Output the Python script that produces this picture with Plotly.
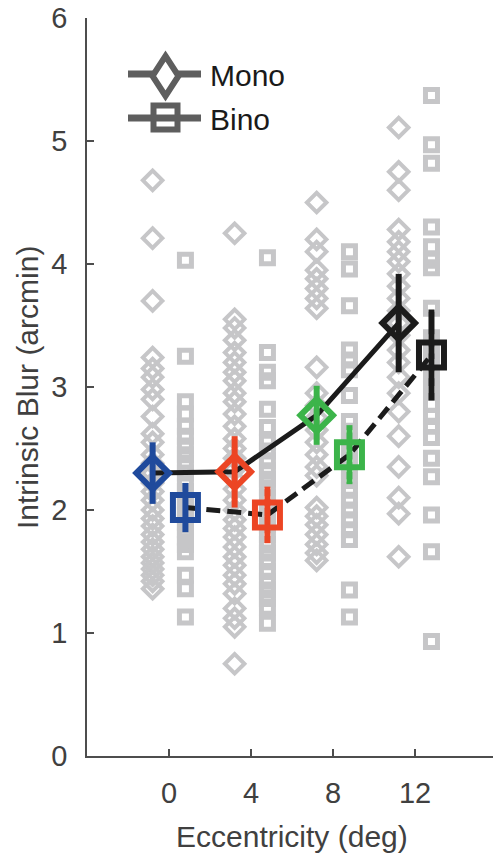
import plotly.graph_objects as go

# ---------------- data ----------------
ECC = [0, 4, 8, 12]
XTICKS = [0, 4, 8, 12]
YTICKS = [0, 1, 2, 3, 4, 5, 6]

mono_mean = [2.30, 2.31, 2.77, 3.52]
mono_err = [0.25, 0.29, 0.24, 0.40]
bino_mean = [2.02, 1.96, 2.45, 3.26]
bino_err = [0.20, 0.23, 0.24, 0.37]

mono_0 = [4.68, 4.21, 3.70, 3.24, 3.15, 3.08, 2.98, 2.90, 2.76, 2.62, 2.55, 2.45, 2.38, 2.30,
          2.22, 2.15, 2.08, 2.00, 1.93, 1.87, 1.80, 1.74, 1.68, 1.62, 1.57, 1.52, 1.47, 1.42, 1.36]
mono_4 = [4.25, 3.55, 3.48, 3.38, 3.28, 3.20, 3.12, 3.05, 2.95, 2.88, 2.78, 2.68, 2.58, 2.50,
          2.42, 2.33, 2.25, 2.17, 2.08, 2.00, 1.92, 1.85, 1.78, 1.70, 1.62, 1.55, 1.47, 1.40,
          1.32, 1.20, 1.12, 1.05, 0.75]
mono_8 = [4.50, 4.20, 4.10, 3.95, 3.88, 3.80, 3.72, 3.64, 3.16, 2.95, 2.85, 2.75, 2.65, 2.55,
          2.45, 2.35, 2.28, 2.02, 1.95, 1.88, 1.80, 1.72, 1.65, 1.59]
mono_12 = [5.11, 4.75, 4.60, 4.28, 4.18, 4.10, 4.02, 3.92, 3.82, 3.72, 3.62, 3.52, 3.42, 3.30,
           3.20, 3.08, 2.95, 2.80, 2.60, 2.35, 2.10, 1.97, 1.62]

bino_0 = [4.03, 3.25, 2.88, 2.78, 2.68, 2.60, 2.52, 2.45, 2.38, 2.30, 2.22, 2.15, 2.08, 2.02,
          1.96, 1.90, 1.84, 1.78, 1.72, 1.66, 1.47, 1.36, 1.13]
bino_4 = [4.05, 3.28, 3.12, 3.05, 2.82, 2.67, 2.55, 2.48, 2.40, 2.32, 2.25, 2.18, 2.10, 2.02,
          1.95, 1.88, 1.80, 1.72, 1.65, 1.58, 1.50, 1.42, 1.35, 1.28, 1.21, 1.08]
bino_8 = [4.10, 3.96, 3.66, 3.30, 3.22, 3.14, 2.93, 2.72, 2.64, 2.56, 2.48, 2.40, 2.32, 2.24,
          2.16, 2.08, 2.00, 1.92, 1.84, 1.76, 1.35, 1.13]
bino_12 = [5.37, 4.97, 4.82, 4.30, 4.14, 4.03, 3.97, 3.64, 3.40, 3.30, 3.20, 3.10, 2.98, 2.86,
           2.76, 2.68, 2.59, 2.42, 2.27, 1.96, 1.66, 0.93]

mono_subjects = [mono_0, mono_4, mono_8, mono_12]
bino_subjects = [bino_0, bino_4, bino_8, bino_12]

COLORS = ["#1f4a9c", "#ec4524", "#3cb44a", "#1b1b1b"]
GRAY = "#c6c6c8"
LEG_GRAY = "#5e5e5e"
OFF = 0.8

# ---------------- figure ----------------
W, H = 493, 854
L, R, T, B = 87, 0, 18, 98
PW, PH = W - L - R, H - T - B

fig = go.Figure()

# individual data (gray)
for e, vals in zip(ECC, mono_subjects):
    fig.add_trace(go.Scatter(
        x=[e - OFF] * len(vals), y=vals, mode="markers", showlegend=False, hoverinfo="skip",
        marker=dict(symbol="diamond-open", size=15, color=GRAY, line=dict(width=4, color=GRAY))))
for e, vals in zip(ECC, bino_subjects):
    fig.add_trace(go.Scatter(
        x=[e + OFF] * len(vals), y=vals, mode="markers", showlegend=False, hoverinfo="skip",
        marker=dict(symbol="square-open", size=12, color=GRAY, line=dict(width=5, color=GRAY))))

# mean lines
fig.add_trace(go.Scatter(x=[e - OFF for e in ECC], y=mono_mean, mode="lines", showlegend=False,
                         line=dict(color="#1b1b1b", width=5)))
fig.add_trace(go.Scatter(x=[e + OFF for e in ECC], y=bino_mean, mode="lines", showlegend=False,
                         line=dict(color="#1b1b1b", width=5, dash="14px,7px")))

# means with error bars
for i, e in enumerate(ECC):
    c = COLORS[i]
    fig.add_trace(go.Scatter(
        x=[e - OFF], y=[mono_mean[i]], mode="markers", showlegend=False,
        error_y=dict(type="data", array=[mono_err[i]], color=c, thickness=6, width=0),
        marker=dict(symbol="diamond-open", size=25, color=c, line=dict(width=6, color=c))))
    fig.add_trace(go.Scatter(
        x=[e + OFF], y=[bino_mean[i]], mode="markers", showlegend=False,
        error_y=dict(type="data", array=[bino_err[i]], color=c, thickness=6, width=0),
        marker=dict(symbol="square-open", size=25, color=c, line=dict(width=6, color=c))))


def px(x):
    return (x - L) / PW


def py(y):
    return (H - B - y) / PH


shapes = []
# legend: Mono
shapes.append(dict(type="line", xref="paper", yref="paper", x0=px(128), x1=px(201),
                   y0=py(74), y1=py(74), line=dict(color=LEG_GRAY, width=7)))
cx, cy, hw, hh = 165.5, 76, 13, 20
shapes.append(dict(type="path", xref="paper", yref="paper",
                   path=f"M{px(cx)},{py(cy - hh)} L{px(cx + hw)},{py(cy)} L{px(cx)},{py(cy + hh)} L{px(cx - hw)},{py(cy)} Z",
                   line=dict(color=LEG_GRAY, width=6), fillcolor="rgba(255,255,255,1)"))
# legend: Bino
shapes.append(dict(type="line", xref="paper", yref="paper", x0=px(128), x1=px(201),
                   y0=py(118), y1=py(118), line=dict(color=LEG_GRAY, width=7)))
sx, sy, hs = 165.5, 117.5, 12
shapes.append(dict(type="rect", xref="paper", yref="paper", x0=px(sx - hs), x1=px(sx + hs),
                   y0=py(sy - hs), y1=py(sy + hs), line=dict(color=LEG_GRAY, width=6),
                   fillcolor="rgba(255,255,255,1)"))
shapes.append(dict(type="line", xref="paper", yref="paper", x0=px(sx - hs), x1=px(sx + hs),
                   y0=py(118), y1=py(118), line=dict(color=LEG_GRAY, width=7), layer="above"))

FONT = "Liberation Sans, Arial, Helvetica, sans-serif"
annotations = [
    dict(text="Mono", xref="paper", yref="paper", x=px(208), y=py(76), xanchor="left",
         yanchor="middle", showarrow=False, font=dict(size=30, color="#1a1a1a", family=FONT)),
    dict(text="Bino", xref="paper", yref="paper", x=px(208), y=py(119), xanchor="left",
         yanchor="middle", showarrow=False, font=dict(size=30, color="#1a1a1a", family=FONT)),
    dict(text="Intrinsic Blur (arcmin)", xref="paper", yref="paper", x=px(28), y=py(388),
         xanchor="center", yanchor="middle", textangle=-90, showarrow=False,
         font=dict(size=30, color="#404040", family=FONT)),
    dict(text="Eccentricity (deg)", xref="paper", yref="paper", x=px(292), y=py(836),
         xanchor="center", yanchor="middle", showarrow=False,
         font=dict(size=30, color="#404040", family=FONT)),
]

fig.update_layout(
    width=W, height=H, margin=dict(l=L, r=R, t=T, b=B, autoexpand=False),
    paper_bgcolor="white", plot_bgcolor="white", showlegend=False,
    font=dict(family=FONT, size=29, color="#404040"),
    shapes=shapes, annotations=annotations,
    xaxis=dict(range=[-4, 15.8], tickvals=XTICKS, ticktext=[str(v) for v in XTICKS],
               showgrid=False, zeroline=False, showline=True, linecolor="#4d4d4d", linewidth=1.5,
               ticks="inside", ticklen=7, tickwidth=1.5, tickcolor="#4d4d4d",
               tickfont=dict(size=29, color="#404040"), ticklabelstandoff=10, fixedrange=True),
    yaxis=dict(range=[0, 6], tickvals=YTICKS, showgrid=False, zeroline=False, showline=True,
               linecolor="#4d4d4d", linewidth=1.5, ticks="inside", ticklen=7, tickwidth=1.5,
               tickcolor="#4d4d4d", tickfont=dict(size=29, color="#404040"),
               ticklabelstandoff=12, ticklabeloverflow="allow", fixedrange=True),
)

fig.write_html("out.html", post_script="document.body.style.margin='0';",
               config={"displayModeBar": False})
